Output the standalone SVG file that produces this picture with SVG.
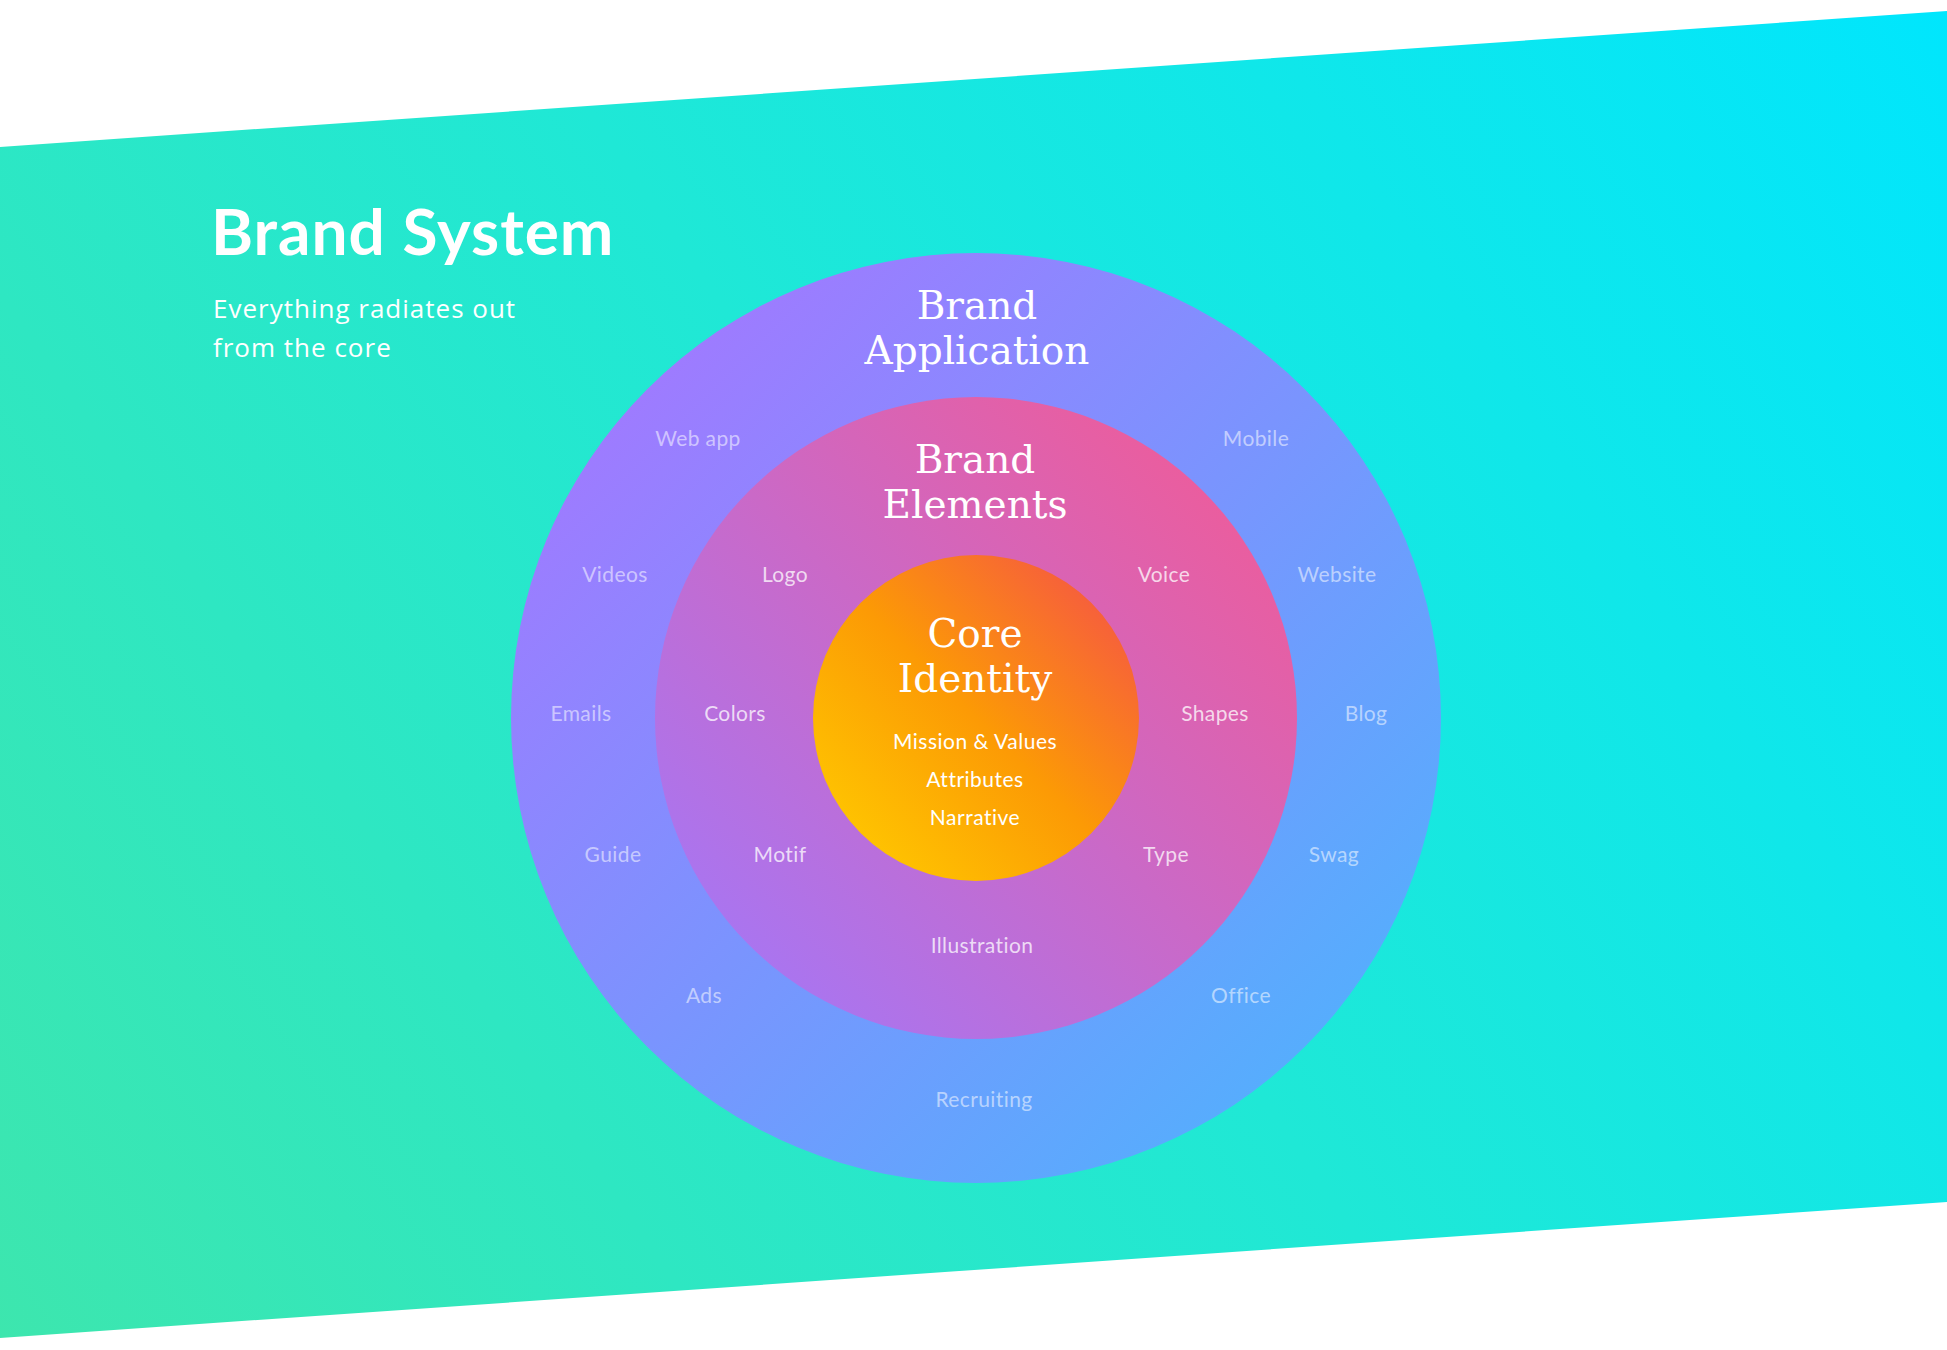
<svg xmlns="http://www.w3.org/2000/svg" width="1947" height="1350" viewBox="0 0 1947 1350">
<defs>
<linearGradient id="bg" gradientUnits="userSpaceOnUse" x1="0" y1="1338" x2="1947" y2="11">
<stop offset="0" stop-color="#3de6ae"/>
<stop offset="0.5" stop-color="#1fe8d6"/>
<stop offset="1" stop-color="#00e6fd"/>
</linearGradient>
<linearGradient id="outerG" x1="0.1" y1="0.1" x2="0.9" y2="0.9">
<stop offset="0" stop-color="#a278ff"/>
<stop offset="1" stop-color="#52b0fd"/>
</linearGradient>
<linearGradient id="midG" x1="0.9" y1="0.1" x2="0.1" y2="0.9">
<stop offset="0" stop-color="#ee5c9a"/>
<stop offset="1" stop-color="#a676f4"/>
</linearGradient>
<linearGradient id="coreG" x1="0.9" y1="0.1" x2="0.1" y2="0.9">
<stop offset="0" stop-color="#f65a40"/>
<stop offset="0.5" stop-color="#fc9a05"/>
<stop offset="1" stop-color="#ffc700"/>
</linearGradient>
<style>
.title{font-family:Lato,"Noto Sans",sans-serif;font-weight:700;font-size:64px;letter-spacing:1px;fill:#fff}
.sub{font-family:"Open Sans","Noto Sans",sans-serif;font-size:26px;letter-spacing:1px;fill:#fff}
.head{font-family:"DejaVu Serif","Liberation Serif",serif;font-size:39px;fill:#fff;text-anchor:middle}
.core{font-family:Lato,"Noto Sans",sans-serif;font-size:21px;letter-spacing:0.5px;fill:#fff;text-anchor:middle}
.lbl{font-family:Lato,"Noto Sans",sans-serif;font-size:21px;letter-spacing:0.4px;fill:#fff;text-anchor:middle}
.outerL{fill-opacity:0.55}
.midL{fill-opacity:0.75}
</style>
</defs>
<polygon points="0,147 1947,11 1947,1202 0,1338" fill="url(#bg)"/>
<g id="header">
<text class="title" x="211" y="255">Brand System</text>
<text class="sub" x="213" y="318">Everything radiates out</text>
<text class="sub" x="213" y="357">from the core</text>
</g>
<g id="connectors"></g>
<g id="brand-application">
<circle cx="976" cy="718" r="465" fill="url(#outerG)"/>
<text class="head" x="977" y="319">Brand</text>
<text class="head" x="977" y="364">Application</text>
<text class="lbl outerL" x="698" y="446">Web app</text>
<text class="lbl outerL" x="1256" y="446">Mobile</text>
<text class="lbl outerL" x="615" y="582">Videos</text>
<text class="lbl outerL" x="1337" y="582">Website</text>
<text class="lbl outerL" x="581" y="721">Emails</text>
<text class="lbl outerL" x="1366" y="721">Blog</text>
<text class="lbl outerL" x="613" y="862">Guide</text>
<text class="lbl outerL" x="1334" y="862">Swag</text>
<text class="lbl outerL" x="704" y="1003">Ads</text>
<text class="lbl outerL" x="1241" y="1003">Office</text>
<text class="lbl outerL" x="984" y="1107">Recruiting</text>
</g>
<g id="brand-elements">
<circle cx="976" cy="718" r="321" fill="url(#midG)"/>
<text class="head" x="975" y="473">Brand</text>
<text class="head" x="975" y="518">Elements</text>
<text class="lbl midL" x="785" y="582">Logo</text>
<text class="lbl midL" x="1164" y="582">Voice</text>
<text class="lbl midL" x="735" y="721">Colors</text>
<text class="lbl midL" x="1215" y="721">Shapes</text>
<text class="lbl midL" x="780" y="862">Motif</text>
<text class="lbl midL" x="1166" y="862">Type</text>
<text class="lbl midL" x="982" y="953">Illustration</text>
</g>
<g id="core-identity">
<circle cx="976" cy="718" r="163" fill="url(#coreG)"/>
<text class="head" x="975" y="647">Core</text>
<text class="head" x="975" y="692">Identity</text>
<text class="core" x="975" y="749">Mission &amp; Values</text>
<text class="core" x="975" y="787">Attributes</text>
<text class="core" x="975" y="825">Narrative</text>
</g>
</svg>
